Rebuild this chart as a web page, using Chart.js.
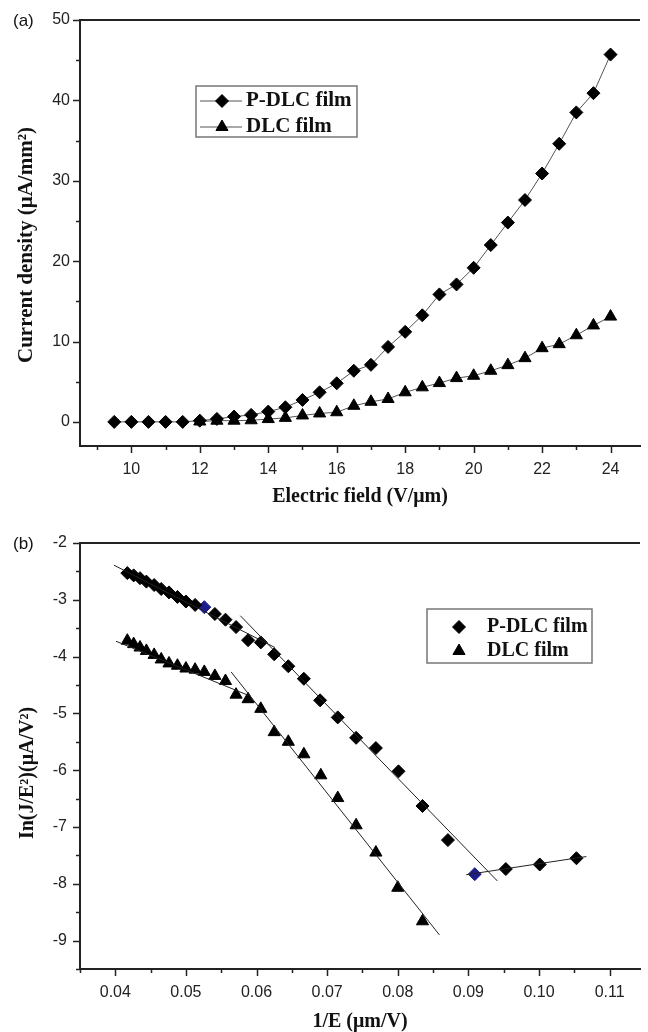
<!DOCTYPE html>
<html>
<head>
<meta charset="utf-8">
<script src="https://cdn.jsdelivr.net/npm/chart.js@4.4.1/dist/chart.umd.min.js"></script>
<style>
  html, body { margin: 0; padding: 0; background: #fff; }
  .panel { width: 648px; height: 516px; }
  canvas { display: block; }
</style>
</head>
<body>
<div class="panel"><canvas id="chartA" width="648" height="516"></canvas></div>
<div class="panel"><canvas id="chartB" width="648" height="516"></canvas></div>
<script>
// ---------------------------------------------------------------
// (a) current density vs electric field
// ---------------------------------------------------------------
const fieldPDLC = [9.5, 10, 10.5, 11, 11.5, 12, 12.5, 13, 13.5, 14, 14.5, 15, 15.5, 16, 16.5,
                   17, 17.5, 18, 18.5, 19, 19.5, 20, 20.5, 21, 21.5, 22, 22.5, 23, 23.5, 24];
const currentPDLC = [0, 0, 0, 0, 0, 0.15, 0.37, 0.66, 0.87, 1.28, 1.82, 2.73, 3.68, 4.8, 6.36,
                     7.1, 9.33, 11.2, 13.26, 15.86, 17.1, 19.17, 22.0, 24.8, 27.6, 30.9, 34.6, 38.5, 40.9, 45.7];

const fieldDLC = [12, 12.5, 13, 13.5, 14, 14.5, 15, 15.5, 16, 16.5, 17, 17.5, 18, 18.5, 19,
                  19.5, 20, 20.5, 21, 21.5, 22, 22.5, 23, 23.5, 24];
const currentDLC = [0.05, 0.15, 0.15, 0.2, 0.35, 0.5, 0.8, 1.05, 1.2, 2.0, 2.5, 2.85, 3.68, 4.3, 4.83,
                    5.45, 5.74, 6.36, 7.06, 7.93, 9.17, 9.67, 10.78, 12.0, 13.1];

const xMajorA = [10, 12, 14, 16, 18, 20, 22, 24];
const xMinorA = [9, 11, 13, 15, 17, 19, 21, 23];
const yMajorA = [0, 10, 20, 30, 40, 50];
const yMinorA = [5, 15, 25, 35, 45];

// ---------------------------------------------------------------
// (b) Fowler-Nordheim plot
// ---------------------------------------------------------------
const invEPDLC = [0.1053, 0.1001, 0.0953, 0.0909, 0.0871, 0.0835, 0.0801, 0.0769, 0.0741, 0.0715,
                  0.0690, 0.0667, 0.0645, 0.0625, 0.0606, 0.0588, 0.0571, 0.0556, 0.0541, 0.0526,
                  0.0513, 0.0500, 0.0488, 0.0476, 0.0465, 0.0455, 0.0444, 0.0435, 0.0426, 0.0417];
const lnPDLC = [-7.55, -7.66, -7.74, -7.83, -7.23, -6.63, -6.02, -5.61, -5.43, -5.07,
                -4.77, -4.39, -4.17, -3.96, -3.75, -3.71, -3.48, -3.35, -3.25, -3.13,
                -3.09, -3.03, -2.95, -2.87, -2.81, -2.74, -2.68, -2.62, -2.57, -2.53];
const bluePDLC = [3, 19];   // the two points drawn in blue

const invEDLC = [0.0835, 0.0800, 0.0769, 0.0741, 0.0715, 0.0691, 0.0667, 0.0645, 0.0625, 0.0606,
                 0.0588, 0.0571, 0.0556, 0.0541, 0.0526, 0.0513, 0.0500, 0.0488, 0.0476, 0.0465,
                 0.0455, 0.0444, 0.0435, 0.0426, 0.0417];
const lnDLC = [-8.66, -8.07, -7.45, -6.97, -6.49, -6.09, -5.72, -5.50, -5.33, -4.92,
               -4.75, -4.67, -4.43, -4.34, -4.27, -4.23, -4.21, -4.16, -4.12, -4.05,
               -3.97, -3.90, -3.84, -3.78, -3.72];

// straight fit lines (end points)
const fitLinesX = [[0.0398, 0.0626], [0.0577, 0.0941], [0.0897, 0.1067], [0.0401, 0.0588], [0.0564, 0.0859]];
const fitLinesY = [[-2.39, -3.84], [-3.28, -7.95], [-7.84, -7.52], [-3.73, -4.68], [-4.27, -8.90]];

const xMajorB = [0.04, 0.05, 0.06, 0.07, 0.08, 0.09, 0.10, 0.11];
const xMinorB = [0.035, 0.045, 0.055, 0.065, 0.075, 0.085, 0.095, 0.105];
const yMajorB = [-9, -8, -7, -6, -5, -4, -3, -2];
const yMinorB = [-9.5, -8.5, -7.5, -6.5, -5.5, -4.5, -3.5, -2.5];

const AXIS = '#222';
const TEXT = '#111';
const pts = (xs, ys) => xs.map((x, i) => ({ x: x, y: ys[i] }));

// tick marks outside the frame, top border, y title and panel letter
const frameTicks = {
  id: 'frameTicks',
  afterDraw(chart, args, o) {
    const { ctx, chartArea: area, scales } = chart;
    ctx.save();
    ctx.strokeStyle = AXIS;
    ctx.lineWidth = 2;
    ctx.beginPath();
    ctx.moveTo(area.left - 1, area.top);
    ctx.lineTo(area.right, area.top);
    ctx.stroke();

    ctx.lineWidth = 1.5;
    ctx.beginPath();
    const mark = (scale, values, len) => values.forEach(v => {
      const p = Math.round(scale.getPixelForValue(v)) + 0.5;
      if (scale.isHorizontal()) {
        ctx.moveTo(p, area.bottom);
        ctx.lineTo(p, area.bottom + len);
      } else {
        ctx.moveTo(area.left, p);
        ctx.lineTo(area.left - len, p);
      }
    });
    mark(scales.x, o.xMajor, 7);
    mark(scales.x, o.xMinor, 4);
    mark(scales.y, o.yMajor, 7);
    mark(scales.y, o.yMinor, 4);
    ctx.stroke();

    ctx.fillStyle = TEXT;
    ctx.font = '17px "Liberation Sans"';
    ctx.textBaseline = 'middle';
    ctx.textAlign = 'left';
    ctx.fillText(o.label, 13, o.labelY);

    // rotated y-axis title
    ctx.translate(o.yTitleX, o.yTitleY);
    ctx.rotate(-Math.PI / 2);
    ctx.textAlign = 'center';
    ctx.font = 'bold ' + o.yTitleSize + 'px "Liberation Serif"';
    ctx.fillText(o.yTitle, 0, 0);
    ctx.restore();
  }
};

// boxed legend inside the plot
const boxLegend = {
  id: 'boxLegend',
  afterDraw(chart, args, o) {
    const { ctx } = chart;
    ctx.save();
    ctx.strokeStyle = '#777';
    ctx.lineWidth = 1.5;
    ctx.strokeRect(o.box[0], o.box[1], o.box[2], o.box[3]);
    ctx.font = 'bold ' + o.fontSize + 'px "Liberation Serif"';
    ctx.textBaseline = 'middle';
    ctx.textAlign = 'left';
    const shown = chart.data.datasets.filter(ds => ds.label);
    shown.forEach((ds, i) => {
      const y = o.rows[i];
      if (o.line) {
        ctx.strokeStyle = ds.borderColor;
        ctx.lineWidth = 1;
        ctx.beginPath();
        ctx.moveTo(o.line[0], y);
        ctx.lineTo(o.line[1], y);
        ctx.stroke();
      }
      ctx.fillStyle = '#000';
      ctx.strokeStyle = '#000';
      ctx.lineWidth = 1;
      Chart.helpers.drawPoint(ctx, { pointStyle: ds.pointStyle, radius: ds.pointRadius, rotation: 0, borderWidth: 1 }, o.markerX, y);
      ctx.fillStyle = TEXT;
      ctx.fillText(ds.label, o.textX, y);
    });
    ctx.restore();
  }
};

function axisFont(size) {
  return { family: '"Liberation Sans"', size: size };
}
function titleFont(size) {
  return { family: '"Liberation Serif"', size: size, weight: 'bold', lineHeight: 1 };
}

// ---------------------------------------------------------------
// chart (a)
// ---------------------------------------------------------------
new Chart(document.getElementById('chartA'), {
  type: 'scatter',
  data: {
    datasets: [
      {
        label: 'P-DLC film',
        data: pts(fieldPDLC, currentPDLC),
        showLine: true,
        borderColor: '#555',
        borderWidth: 1,
        pointStyle: 'rectRot',
        pointRadius: 6.5,
        pointBackgroundColor: '#000',
        pointBorderColor: '#000'
      },
      {
        label: 'DLC film',
        data: pts(fieldDLC, currentDLC),
        showLine: true,
        borderColor: '#555',
        borderWidth: 1,
        pointStyle: 'triangle',
        pointRadius: 7,
        pointBackgroundColor: '#000',
        pointBorderColor: '#000'
      }
    ]
  },
  options: {
    responsive: false,
    animation: false,
    events: [],
    layout: { padding: { top: 20, left: 0, right: 0, bottom: 0 } },
    scales: {
      x: {
        type: 'linear',
        min: 8.5,
        max: 24.86,
        afterBuildTicks: s => { s.ticks = xMajorA.map(v => ({ value: v })); },
        afterFit: s => { s.height = 70; },
        grid: { display: false, drawTicks: false },
        border: { color: AXIS, width: 2 },
        ticks: { font: axisFont(16), color: '#222', padding: 14, maxRotation: 0 },
        title: { display: true, text: 'Electric field (V/μm)', font: titleFont(20), color: TEXT, padding: { top: 0, bottom: 9 } }
      },
      y: {
        type: 'linear',
        min: -3,
        max: 50,
        afterBuildTicks: s => { s.ticks = yMajorA.map(v => ({ value: v })); },
        afterFit: s => { s.width = 80; },
        grid: { display: false, drawTicks: false },
        border: { color: AXIS, width: 2 },
        ticks: { font: axisFont(16), color: '#222', padding: 10 }
      }
    },
    plugins: {
      legend: { display: false },
      tooltip: { enabled: false },
      frameTicks: {
        xMajor: xMajorA, xMinor: xMinorA, yMajor: yMajorA, yMinor: yMinorA,
        label: '(a)', labelY: 21,
        yTitle: 'Current density (μA/mm²)', yTitleSize: 21, yTitleX: 27, yTitleY: 245
      },
      boxLegend: { box: [196, 86, 161, 51], rows: [101, 127], line: [200, 242], markerX: 222, textX: 246, fontSize: 21 }
    }
  },
  plugins: [frameTicks, boxLegend]
});

// ---------------------------------------------------------------
// chart (b)
// ---------------------------------------------------------------
const fitDatasets = fitLinesX.map((xs, i) => ({
  data: pts(xs, fitLinesY[i]),
  showLine: true,
  borderColor: '#222',
  borderWidth: 1,
  pointRadius: 0
}));

new Chart(document.getElementById('chartB'), {
  type: 'scatter',
  data: {
    datasets: fitDatasets.concat([
      {
        label: 'P-DLC film',
        data: pts(invEPDLC, lnPDLC),
        pointStyle: 'rectRot',
        pointRadius: 6.5,
        pointBackgroundColor: invEPDLC.map((v, i) => bluePDLC.includes(i) ? '#1c1c8a' : '#000'),
        pointBorderColor: invEPDLC.map((v, i) => bluePDLC.includes(i) ? '#1c1c8a' : '#000')
      },
      {
        label: 'DLC film',
        data: pts(invEDLC, lnDLC),
        pointStyle: 'triangle',
        pointRadius: 7,
        pointBackgroundColor: '#000',
        pointBorderColor: '#000'
      }
    ])
  },
  options: {
    responsive: false,
    animation: false,
    events: [],
    layout: { padding: { top: 27, left: 0, right: 0, bottom: 0 } },
    scales: {
      x: {
        type: 'linear',
        min: 0.035,
        max: 0.1143,
        afterBuildTicks: s => { s.ticks = xMajorB.map(v => ({ value: v })); },
        afterFit: s => { s.height = 63; },
        grid: { display: false, drawTicks: false },
        border: { color: AXIS, width: 2 },
        ticks: { font: axisFont(16), color: '#222', padding: 14, maxRotation: 0, callback: v => v.toFixed(2) },
        title: { display: true, text: '1/E (μm/V)', font: titleFont(20), color: TEXT, padding: { top: 0, bottom: 0 } }
      },
      y: {
        type: 'linear',
        min: -9.5,
        max: -2,
        afterBuildTicks: s => { s.ticks = yMajorB.map(v => ({ value: v })); },
        afterFit: s => { s.width = 80; },
        grid: { display: false, drawTicks: false },
        border: { color: AXIS, width: 2 },
        ticks: { font: axisFont(16), color: '#222', padding: 13 }
      }
    },
    plugins: {
      legend: { display: false },
      tooltip: { enabled: false },
      frameTicks: {
        xMajor: xMajorB, xMinor: xMinorB, yMajor: yMajorB, yMinor: yMinorB,
        label: '(b)', labelY: 28,
        yTitle: 'In(J/E²)(μA/V²)', yTitleSize: 20, yTitleX: 28, yTitleY: 257
      },
      boxLegend: { box: [427, 93, 165, 54], rows: [111, 135], markerX: 459, textX: 487, fontSize: 20 }
    }
  },
  plugins: [frameTicks, boxLegend]
});
</script>
</body>
</html>
